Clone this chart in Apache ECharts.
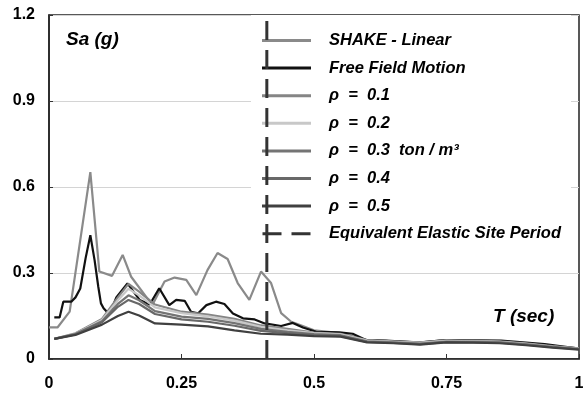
<!DOCTYPE html>
<html><head><meta charset="utf-8">
<script src="https://cdn.jsdelivr.net/npm/echarts@6/dist/echarts.min.js"></script>
<style>html,body{margin:0;padding:0;background:#fff}#c{width:587px;height:394px}</style>
</head><body><div id="c"></div>
<script>
// ---- data ----
const xTicks = ['0', '0.25', '0.5', '0.75', '1'];
const yTicks = ['0', '0.3', '0.6', '0.9', '1.2'];
const seriesNames = ['SHAKE - Linear', 'Free Field Motion', 'ρ  =  0.1', 'ρ  =  0.2', 'ρ  =  0.3  ton / m³', 'ρ  =  0.4', 'ρ  =  0.5', 'Equivalent Elastic Site Period'];

const shakeT  = [0.0, 0.016, 0.039, 0.078, 0.095, 0.119, 0.139, 0.155, 0.195, 0.218, 0.237, 0.259, 0.278, 0.299, 0.318, 0.337, 0.356, 0.378, 0.400, 0.419, 0.438, 0.457, 0.475, 0.5, 0.55, 0.6, 0.65, 0.7, 0.75, 0.8, 0.85, 0.9, 0.95, 1.0];
const shakeSa = [0.11, 0.11, 0.165, 0.652, 0.305, 0.29, 0.363, 0.287, 0.188, 0.27, 0.284, 0.276, 0.223, 0.31, 0.37, 0.349, 0.265, 0.206, 0.305, 0.265, 0.16, 0.13, 0.118, 0.1, 0.09, 0.066, 0.062, 0.058, 0.066, 0.064, 0.062, 0.054, 0.044, 0.037];

const ffT  = [0.01, 0.02, 0.027, 0.042, 0.05, 0.059, 0.069, 0.078, 0.086, 0.093, 0.098, 0.103, 0.114, 0.127, 0.148, 0.171, 0.19, 0.208, 0.227, 0.24, 0.256, 0.268, 0.281, 0.297, 0.315, 0.331, 0.347, 0.366, 0.388, 0.407, 0.438, 0.46, 0.479, 0.504, 0.548, 0.573, 0.598, 0.636, 0.699, 0.737, 0.765, 0.853, 0.935, 1.0];
const ffSa = [0.145, 0.145, 0.2, 0.2, 0.215, 0.246, 0.351, 0.432, 0.345, 0.252, 0.194, 0.177, 0.155, 0.215, 0.264, 0.206, 0.19, 0.247, 0.188, 0.206, 0.203, 0.165, 0.159, 0.188, 0.2, 0.192, 0.159, 0.142, 0.138, 0.124, 0.115, 0.126, 0.11, 0.095, 0.093, 0.088, 0.066, 0.064, 0.057, 0.064, 0.066, 0.064, 0.052, 0.036];

const rhoT   = [0.01, 0.05, 0.1, 0.13, 0.15, 0.17, 0.2, 0.25, 0.3, 0.35, 0.4, 0.45, 0.5, 0.55, 0.6, 0.65, 0.7, 0.75, 0.8, 0.85, 0.9, 0.95, 1.0];
const rho1Sa = [0.07, 0.09, 0.14, 0.215, 0.262, 0.235, 0.19, 0.165, 0.155, 0.14, 0.117, 0.105, 0.092, 0.088, 0.066, 0.062, 0.058, 0.065, 0.064, 0.062, 0.055, 0.045, 0.037];
const rho2Sa = [0.07, 0.088, 0.136, 0.205, 0.245, 0.222, 0.18, 0.16, 0.149, 0.134, 0.112, 0.1, 0.09, 0.086, 0.064, 0.06, 0.056, 0.063, 0.062, 0.06, 0.053, 0.043, 0.036];
const rho3Sa = [0.07, 0.087, 0.132, 0.192, 0.222, 0.205, 0.167, 0.148, 0.14, 0.125, 0.105, 0.095, 0.087, 0.083, 0.062, 0.058, 0.054, 0.061, 0.06, 0.058, 0.051, 0.042, 0.035];
const rho4Sa = [0.07, 0.086, 0.128, 0.182, 0.206, 0.192, 0.157, 0.138, 0.13, 0.116, 0.098, 0.09, 0.084, 0.08, 0.06, 0.056, 0.052, 0.059, 0.058, 0.057, 0.05, 0.041, 0.034];
const rho5Sa = [0.07, 0.084, 0.12, 0.15, 0.165, 0.152, 0.124, 0.12, 0.114, 0.1, 0.088, 0.085, 0.08, 0.078, 0.058, 0.055, 0.05, 0.058, 0.057, 0.055, 0.048, 0.04, 0.033];

const siteT  = [0.411, 0.411];
const siteSa = [0, 1.2];

// ---- chart ----
const zip = (a, b) => a.map((v, i) => [v, b[i]]);
const colors = ['#8a8a8a', '#111111', '#858585', '#c8c8c8', '#747474', '#686868', '#404040', '#333333'];
const dataSets = [zip(shakeT, shakeSa), zip(ffT, ffSa), zip(rhoT, rho1Sa), zip(rhoT, rho2Sa), zip(rhoT, rho3Sa), zip(rhoT, rho4Sa), zip(rhoT, rho5Sa), zip(siteT, siteSa)];

const series = dataSets.map((d, i) => ({
  name: seriesNames[i],
  type: 'line',
  data: d,
  symbol: 'none',
  showSymbol: false,
  silent: true,
  animation: false,
  z: i === 7 ? 10 : 2,
  lineStyle: i === 7 ? { color: colors[i], width: 3, type: [19, 10] } : { color: colors[i], width: 2.2 },
  itemStyle: { color: colors[i] }
}));

const lineIcon = 'path://M0,0H49V3H0Z';
const dashIcon = 'path://M0,0H19V3H0Z M29,0H48V3H29Z';

const FONT = '"Liberation Sans", Arial, sans-serif';
const chart = echarts.init(document.getElementById('c'), null, { renderer: 'canvas' });
chart.setOption({
  animation: false,
  backgroundColor: '#fff',
  grid: { left: 49, right: 8, top: 15, bottom: 35, show: true, borderColor: '#222', borderWidth: 1.5, backgroundColor: 'transparent' },
  xAxis: {
    type: 'value', min: 0, max: 1, interval: 0.25,
    axisLine: { show: true, lineStyle: { color: '#222', width: 1.5 } },
    axisTick: { show: true, inside: true, length: 5, lineStyle: { color: '#333' } },
    splitLine: { show: false },
    axisLabel: { margin: 17, color: '#000', fontFamily: FONT, fontWeight: 'bold', fontSize: 16,
      formatter: v => xTicks[Math.round(v / 0.25)] }
  },
  yAxis: {
    type: 'value', min: 0, max: 1.2, interval: 0.3,
    axisLine: { show: true, lineStyle: { color: '#222', width: 1.5 } },
    axisTick: { show: true, inside: true, length: 4, lineStyle: { color: '#333' } },
    splitLine: { show: true, lineStyle: { color: '#d4d4d4', width: 1.2 } },
    axisLabel: { margin: 14, color: '#000', fontFamily: FONT, fontWeight: 'bold', fontSize: 16,
      formatter: v => yTicks[Math.round(v / 0.3)] }
  },
  legend: {
    orient: 'vertical', left: 251, top: 15,
    padding: [17, 10, 9, 11],
    backgroundColor: '#fff',
    itemWidth: 49, itemHeight: 3, itemGap: 10.6,
    selectedMode: false,
    data: seriesNames.map((n, i) => ({ name: n, icon: i === 7 ? dashIcon : lineIcon, itemStyle: { color: colors[i], borderWidth: 0 } })),
    textStyle: { fontFamily: FONT, fontWeight: 'bold', fontStyle: 'italic', fontSize: 16.5, color: '#000', lineHeight: 16, padding: [0, 0, 0, 13] }
  },
  graphic: [
    { type: 'text', left: 66, top: 30, style: { text: 'Sa (g)', font: 'italic bold 19px "Liberation Sans", Arial, sans-serif', fill: '#000' } },
    { type: 'text', left: 493, top: 307, style: { text: 'T (sec)', font: 'italic bold 19px "Liberation Sans", Arial, sans-serif', fill: '#000' } }
  ],
  series: series
});
</script>
</body></html>
